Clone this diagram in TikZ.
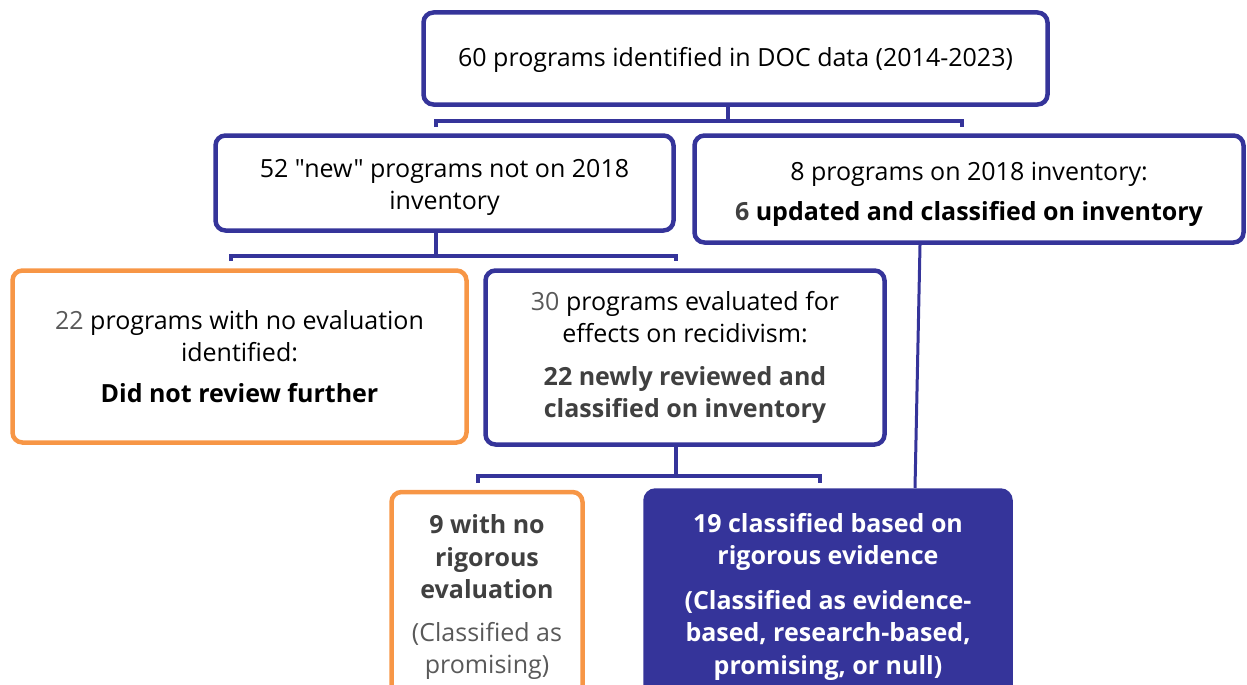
\documentclass[tikz,border=0pt]{standalone}
\usepackage{fontspec}
\newfontfamily\boxfont{Open Sans}
\definecolor{myblue}{HTML}{35349A}
\definecolor{myorange}{HTML}{F79646}
\definecolor{dg}{HTML}{404040}
\definecolor{mg}{HTML}{595959}
\begin{document}
\begin{tikzpicture}[x=1pt,y=-1pt,
  box/.style={draw=myblue, line width=4.5pt, rounded corners=10pt, align=center, inner sep=0pt, font=\boxfont\fontsize{25}{32.5}\selectfont},
  obox/.style={box, draw=myorange},
  fbox/.style={box, fill=myblue, text=white},
  conn/.style={draw=myblue, line width=3.5pt},
]
\useasboundingbox (0,0) rectangle (1247,685);
\clip (0,0) rectangle (1247,685);

\node[box, minimum width=624pt, minimum height=92pt] (top) at (735.5,58.5) {\rule{0pt}{23pt}60 programs identified in DOC data (2014-2023)};
\node[box, minimum width=458pt, minimum height=95pt] (new) at (444.5,183) {\rule{0pt}{27pt}52 "new" programs not on 2018\\inventory};
\node[box, minimum width=549pt, minimum height=107pt] (old) at (969,189) {\rule{0pt}{29pt}8 programs on 2018 inventory:\\[8pt]\textbf{\textcolor{dg}{6} updated and classified on inventory}};
\node[obox, minimum width=454pt, minimum height=172pt] (noeval) at (239.5,356.5) {\textcolor{mg}{22} programs with no evaluation\\identified:\\[8pt]\textbf{Did not review further}};
\node[box, minimum width=399pt, minimum height=174pt] (eval) at (685,357.5) {\textcolor{mg}{30} programs evaluated for\\effects on recidivism:\\[10pt]\textbf{\textcolor{dg}{22 newly reviewed and}}\\\textbf{\textcolor{dg}{classified on inventory}}};
\node[obox, minimum width=191pt, minimum height=210pt] (norig) at (487,597) {\textbf{\textcolor{dg}{9 with no}}\\\textbf{\textcolor{dg}{rigorous}}\\\textbf{\textcolor{dg}{evaluation}}\\[10pt]\textcolor{mg}{(Classified as}\\\textcolor{mg}{promising)}};
\node[fbox, minimum width=365pt, minimum height=212pt] (rig) at (828,596.5) {\textbf{19 classified based on}\\\textbf{rigorous evidence}\\[12pt]\textbf{(Classified as evidence-}\\\textbf{based, research-based,}\\\textbf{promising, or null)}};

% bracket 1
\coordinate (b1m) at (728,121);
\coordinate (b1l) at (436,127);
\coordinate (b1r) at (962,127);
\draw[conn] (b1m |- top.south) -- (b1m);
\draw[conn] (b1l) -- (b1l |- b1m) -- (b1r |- b1m) -- (b1r);
% bracket 2
\coordinate (b2m) at (436,256);
\coordinate (b2l) at (231,261);
\coordinate (b2r) at (676,261);
\draw[conn] (b2m |- new.south) -- (b2m);
\draw[conn] (b2l) -- (b2l |- b2m) -- (b2r |- b2m) -- (b2r);
% bracket 3
\coordinate (b3m) at (676,476);
\coordinate (b3l) at (478,483);
\coordinate (b3r) at (820,483);
\draw[conn] (b3m |- eval.south) -- (b3m);
\draw[conn] (b3l) -- (b3l |- b3m) -- (b3r |- b3m) -- (b3r);
% link from old to rig
\coordinate (oldb) at (920,245);
\coordinate (rigt) at (915,488);
\draw[conn, line width=3pt] (oldb) -- (rigt);
\end{tikzpicture}
\end{document}
